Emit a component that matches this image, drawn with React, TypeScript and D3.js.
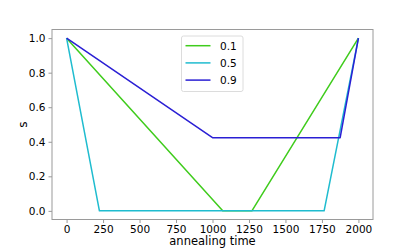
import React from "react";
import * as d3 from "d3";

const xTicks = [0, 250, 500, 750, 1000, 1250, 1500, 1750, 2000];
const yTicks = [0, 0.2, 0.4, 0.6, 0.8, 1.0];

const labels = ["0.1", "0.5", "0.9"];
const colors = ["#3fcc1c", "#1fbccf", "#2a1fd4"];

// schedules: annealing time vs s
const times01 = [0, 1070, 1270, 2000];
const s01 = [1, 0, 0, 1];
const times05 = [0, 225, 1765, 2000];
const s05 = [1, 0, 0, 1];
const times09 = [0, 1000, 1875, 2000];
const s09 = [1, 0.424, 0.424, 1];

const seriesT = [times01, times05, times09];
const seriesS = [s01, s05, s09];

const App = () => {
  const svgRef = React.useRef(null);
  const width = 415;
  const height = 249;
  const margin = { left: 52, right: 42, top: 29.5, bottom: 29.5 };

  React.useEffect(() => {
    const w = width - margin.left - margin.right;
    const h = height - margin.top - margin.bottom;
    const xScale = d3.scaleLinear().domain([-100, 2100]).range([0, w]);
    const yScale = d3.scaleLinear().domain([-0.05, 1.05]).range([h, 0]);

    const svgEl = d3.select(svgRef.current);
    svgEl.selectAll("*").remove();
    const svg = svgEl
      .append("g")
      .attr("transform", `translate(${margin.left},${margin.top})`);

    const font = "DejaVu Sans, sans-serif";
    const tickFs = 10.5;

    // lines
    seriesT.forEach((ts, k) => {
      const pts = ts.map((t, i) => [xScale(t), yScale(seriesS[k][i])] as [number, number]);
      svg
        .append("path")
        .attr("fill", "none")
        .attr("stroke", colors[k])
        .attr("stroke-width", 1.5)
        .attr("stroke-linejoin", "round")
        .attr("d", d3.line()(pts));
    });

    // frame
    svg
      .append("rect")
      .attr("width", w)
      .attr("height", h)
      .attr("fill", "none")
      .attr("stroke", "#9a9a9a")
      .attr("stroke-width", 1);

    const xAxis = d3
      .axisBottom(xScale)
      .tickValues(xTicks)
      .tickSize(3.5)
      .tickPadding(2.5)
      .tickFormat((d) => String(d));
    const xg = svg.append("g").attr("transform", `translate(0,${h})`).call(xAxis);
    xg.select(".domain").remove();
    xg.selectAll("line").attr("stroke", "#9a9a9a");
    xg.selectAll("text").attr("font-size", tickFs).attr("font-family", font).attr("fill", "#000");

    const yAxis = d3
      .axisLeft(yScale)
      .tickValues(yTicks)
      .tickSize(3.5)
      .tickPadding(3)
      .tickFormat(d3.format(".1f"));
    const yg = svg.append("g").call(yAxis);
    yg.select(".domain").remove();
    yg.selectAll("line").attr("stroke", "#9a9a9a");
    yg.selectAll("text").attr("font-size", tickFs).attr("font-family", font).attr("fill", "#000");

    // axis labels
    svg
      .append("text")
      .attr("x", w / 2)
      .attr("y", h + 25.5)
      .attr("text-anchor", "middle")
      .attr("font-size", 11.5)
      .attr("font-family", font)
      .text("annealing time");
    svg
      .append("text")
      .attr("transform", `translate(${-25},${h / 2}) rotate(-90)`)
      .attr("text-anchor", "middle")
      .attr("font-size", 12)
      .attr("font-family", font)
      .text("s");

    // legend
    const lg = svg.append("g").attr("transform", `translate(${181.5 - margin.left},${36 - margin.top})`);
    lg.append("rect")
      .attr("width", 61.5)
      .attr("height", 55.5)
      .attr("rx", 2)
      .attr("fill", "#fff")
      .attr("fill-opacity", 0.8)
      .attr("stroke", "#dcdcdc")
      .attr("stroke-width", 1);
    labels.forEach((lab, i) => {
      const yy = 9.7 + i * 17.2;
      lg.append("line")
        .attr("x1", 4)
        .attr("x2", 29)
        .attr("y1", yy)
        .attr("y2", yy)
        .attr("stroke", colors[i])
        .attr("stroke-width", 1.5);
      lg.append("text")
        .attr("x", 38.5)
        .attr("y", yy + 3.8)
        .attr("font-size", tickFs)
        .attr("font-family", font)
        .text(lab);
    });
  }, []);

  return <svg ref={svgRef} width={width} height={height} style={{ position: "absolute", left: 0, top: 0 }} />;
};

export default App;
